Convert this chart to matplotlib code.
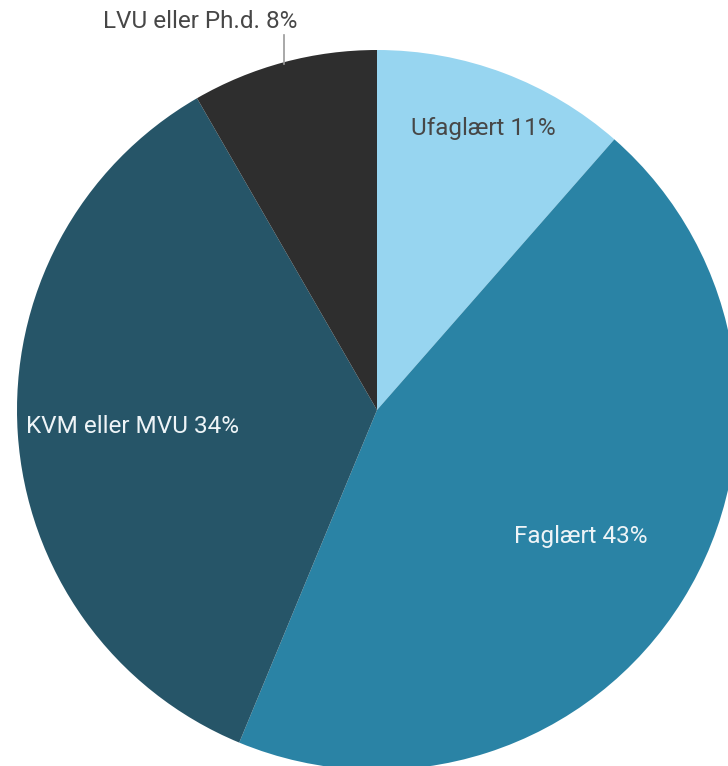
import numpy as np
import matplotlib
matplotlib.use("Agg")
import matplotlib.pyplot as plt

categories = ["Ufaglært", "Faglært", "KVM eller MVU", "LVU eller Ph.d."]
values = [11, 43, 34, 8]
colors = ["#97D5F0", "#2A83A5", "#265568", "#2E2E2E"]
text_colors = ["#474747", "#eef4f7", "#eef4f7", "#474747"]
label_r = [0.835, 0.665, 0.68, None]

W, H = 728, 766
fig = plt.figure(figsize=(W / 100, H / 100), dpi=100)
ax = fig.add_axes([0, 0, 1, 1])

cx, cy, R = 377, H - 410, 360
wedges, _ = ax.pie(values, colors=colors, startangle=90, counterclock=False,
                   center=(cx, cy), radius=R, frame=True,
                   wedgeprops=dict(linewidth=0))
ax.set_xlim(0, W)
ax.set_ylim(0, H)
ax.set_aspect("equal")
ax.axis("off")

font = dict(family=["Roboto", "DejaVu Sans"], fontsize=17.5, fontweight="normal")
for w, cat, v, tc, lr in zip(wedges, categories, values, text_colors, label_r):
    mid = np.deg2rad((w.theta1 + w.theta2) / 2)
    label = f"{cat} {v}%"
    if lr is not None:
        x = cx + lr * R * np.cos(mid)
        y = cy + lr * R * np.sin(mid)
        ax.text(x, y, label, color=tc, ha="center", va="center", **font)
    else:
        x0 = cx + (R - 2) * np.cos(mid)
        y0 = cy + (R - 2) * np.sin(mid)
        ax.plot([x0, x0], [y0, H - 35], color="#9a9a9a", lw=1.2)
        ax.text(x0 + 13, H - 21, label, color=tc, ha="right", va="center", **font)

fig.savefig("out.png", dpi=100)
